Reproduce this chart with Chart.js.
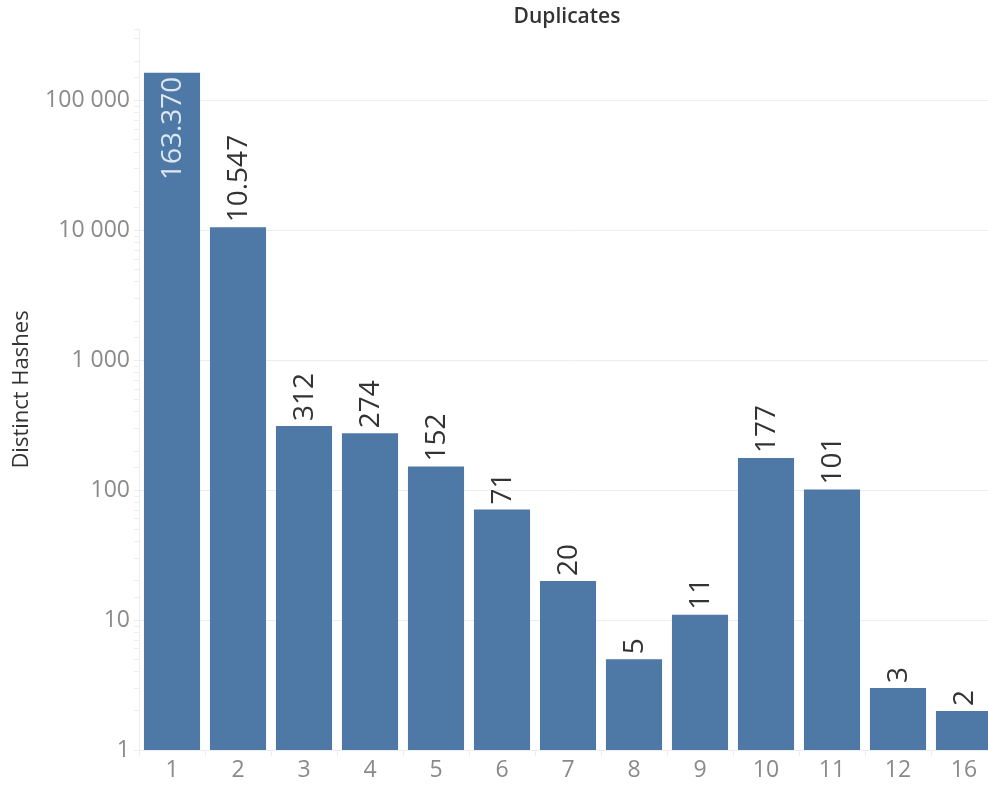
<!DOCTYPE html>
<html>
<head>
<meta charset="utf-8">
<title>Duplicates</title>
<script src="https://cdn.jsdelivr.net/npm/chart.js@4/dist/chart.umd.min.js"></script>
<style>
  html, body { margin: 0; padding: 0; background: #fff; overflow: hidden; }
  #wrap { width: 1000px; height: 787px; }
</style>
</head>
<body>
<div id="wrap"><canvas id="chart" width="1000" height="787"></canvas></div>
<script>
// Number of duplicates per hash, and how many distinct hashes have that count
const duplicateCounts = ['1', '2', '3', '4', '5', '6', '7', '8', '9', '10', '11', '12', '16'];
const distinctHashes = [163370, 10547, 312, 274, 152, 71, 20, 5, 11, 177, 101, 3, 2];

const barColor = '#4e79a7';
const gridColor = '#ededed';
const textFont = '"Open Sans", "Noto Sans", sans-serif';

// 163370 -> "163.370"
function dotThousands(v) {
  return String(v).replace(/\B(?=(\d{3})+(?!\d))/g, '.');
}
// 100000 -> "100 000"
function spaceThousands(v) {
  return String(v).replace(/\B(?=(\d{3})+(?!\d))/g, ' ');
}
function isDecade(v) {
  const l = Math.log10(v);
  return Math.abs(l - Math.round(l)) < 1e-9;
}

// Rotated value labels on top of the bars (inside the bar when there is no room)
const barLabels = {
  id: 'barLabels',
  afterDatasetsDraw(chart) {
    const ctx = chart.ctx;
    const area = chart.chartArea;
    const meta = chart.getDatasetMeta(0);
    ctx.save();
    ctx.font = '28px ' + textFont;
    ctx.textBaseline = 'middle';
    meta.data.forEach((bar, i) => {
      const text = dotThousands(distinctHashes[i]);
      const w = ctx.measureText(text).width;
      ctx.save();
      ctx.translate(bar.x + 1, bar.y);
      ctx.rotate(-Math.PI / 2);
      if (bar.y - 6 - w < area.top) {
        ctx.fillStyle = '#dde7f1';
        ctx.textAlign = 'right';
        ctx.fillText(text, -4, 0);
      } else {
        ctx.fillStyle = '#333333';
        ctx.textAlign = 'left';
        ctx.fillText(text, 5, 0);
      }
      ctx.restore();
    });
    ctx.restore();
  }
};

// Chart title centred over the plot area
const plotTitle = {
  id: 'plotTitle',
  afterDraw(chart) {
    const ctx = chart.ctx;
    const area = chart.chartArea;
    ctx.save();
    ctx.font = '600 21px ' + textFont;
    ctx.fillStyle = '#333333';
    ctx.textAlign = 'center';
    ctx.textBaseline = 'middle';
    ctx.fillText('Duplicates', (area.left + area.right) / 2 - 1, 17);
    ctx.restore();
  }
};

const ctx = document.getElementById('chart').getContext('2d');
const chart = new Chart(ctx, {
  type: 'bar',
  data: {
    labels: duplicateCounts,
    datasets: [{
      label: 'Distinct Hashes',
      data: distinctHashes,
      backgroundColor: barColor,
      borderWidth: 0,
      barPercentage: 0.85,
      categoryPercentage: 1.0
    }]
  },
  options: {
    responsive: false,
    animation: false,
    layout: { padding: { top: 29, right: 3, left: 0, bottom: 0 } },
    plugins: {
      legend: { display: false },
      tooltip: { enabled: false },
      title: { display: false }
    },
    scales: {
      x: {
        offset: true,
        grid: {
          offset: true,
          drawOnChartArea: false,
          color: gridColor,
          tickColor: gridColor,
          tickLength: 6
        },
        border: { color: gridColor },
        ticks: {
          color: '#8a8a8a',
          font: { family: textFont, size: 23 },
          padding: 1,
          maxRotation: 0
        },
        afterFit(scale) { scale.height = 37; }
      },
      y: {
        type: 'logarithmic',
        min: 1,
        max: 354000,
        grid: {
          color: c => (isDecade(c.tick.value) && c.tick.value > 1 ? gridColor : 'rgba(0,0,0,0)'),
          tickColor: gridColor,
          tickLength: 5
        },
        border: { color: gridColor },
        ticks: {
          color: '#8a8a8a',
          font: { family: textFont, size: 23 },
          padding: 4,
          autoSkip: false,
          callback: v => (isDecade(v) ? spaceThousands(v) : '')
        },
        title: {
          display: true,
          text: 'Distinct Hashes',
          color: '#333333',
          font: { family: textFont, size: 22 },
          padding: { top: 9, bottom: 0 }
        },
        afterFit(scale) { scale.width = 139; }
      }
    }
  },
  plugins: [barLabels, plotTitle]
});
</script>
</body>
</html>
